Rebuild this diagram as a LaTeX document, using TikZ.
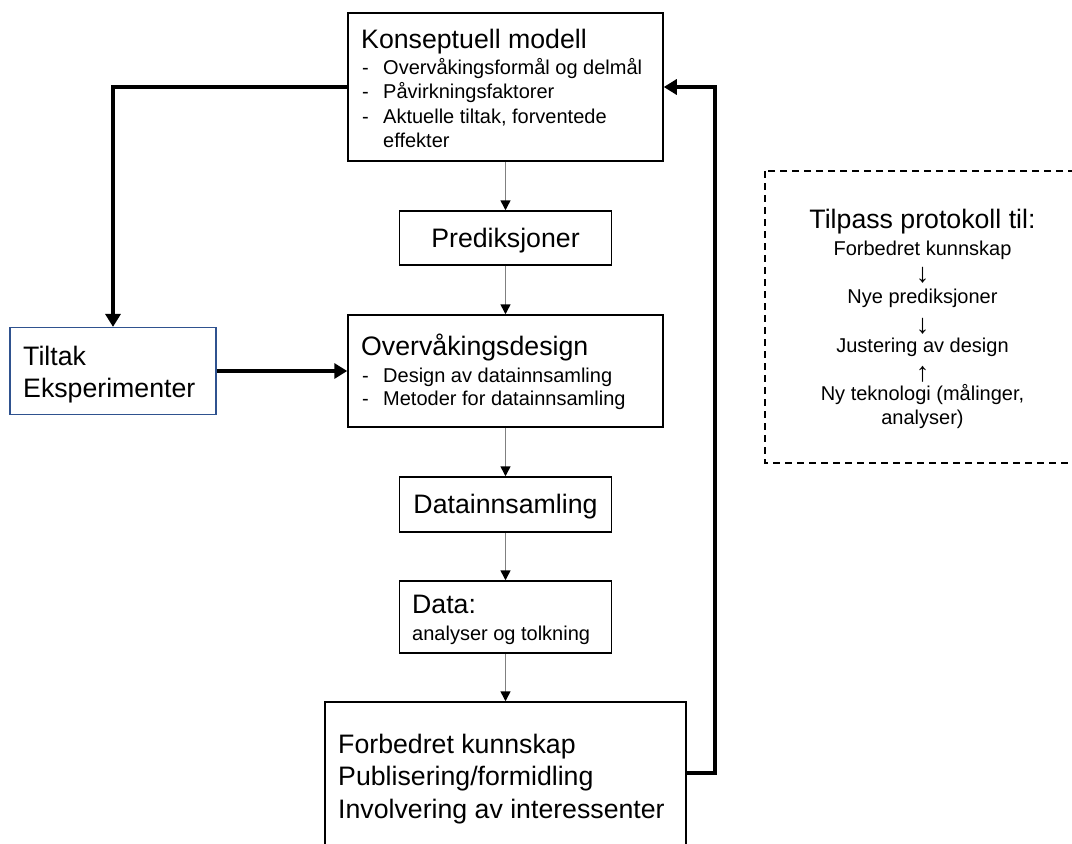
\documentclass[tikz,border=0pt]{standalone}
\usepackage{fontspec}
\setmainfont{Liberation Sans}
\usetikzlibrary{arrows.meta}
\definecolor{flowgray}{RGB}{128,128,128}
\definecolor{tiltblue}{RGB}{47,82,143}
\begin{document}
\begin{tikzpicture}[x=1pt,y=-1pt,
  box/.style={draw=black, line width=1.5pt, inner sep=0pt},
  big/.style={font=\fontsize{26.7}{32}\selectfont, inner sep=0pt},
  sml/.style={font=\fontsize{20}{24}\selectfont, inner sep=0pt},
  arr/.style={font=\fontsize{27}{27}\selectfont, inner sep=0pt},
  flow/.style={draw=flowgray, line width=1.5pt, -{Triangle[width=10pt,length=10pt,color=black]}},
  fat/.style={line width=4.5pt, -{Triangle[width=15pt,length=13pt]}},
]
\useasboundingbox (0,0) rectangle (1072,844);
\clip (0,0) rectangle (1072,844);

% boxes
\node[box, minimum width=315pt, minimum height=148pt] (km) at (505.5,87) {};
\node[box, minimum width=212pt, minimum height=54pt] (pred) at (505.5,238) {};
\node[box, minimum width=315pt, minimum height=112pt] (ovd) at (505.5,371) {};
\node[box, minimum width=212pt, minimum height=55pt] (dinn) at (505.5,504.5) {};
\node[box, minimum width=212pt, minimum height=72pt] (data) at (505.5,617) {};
\node[box, minimum width=361pt, minimum height=180pt] (fin) at (505.5,792) {};
\node[draw=tiltblue, line width=1.2pt, inner sep=0pt, minimum width=206pt, minimum height=87pt] (tilt) at (113,371) {};
\draw[dashed, dash pattern=on 7pt off 5pt, line width=1.2pt] (765,171) rectangle (1090,463);

% connectors
\draw[flow] (km.south) -- (pred.north);
\draw[flow] (pred.south) -- (ovd.north);
\draw[flow] (ovd.south) -- (dinn.north);
\draw[flow] (dinn.south) -- (data.north);
\draw[flow] (data.south) -- (fin.north);
\coordinate (fbc) at (715,773);
\draw[fat] (fbc -| fin.east) -- (fbc) |- (km.east);
\draw[fat] (km.west) -| (tilt.north);
\draw[fat] (tilt.east) -- (ovd.west);

% Konseptuell modell
\node[big, anchor=base west] (kmT) at (361,48) {Konseptuell modell};
\node[sml, anchor=base west] (kmd1) at (362,74) {-};
\node[sml, anchor=base west] (kmb1) at (383,74) {Overvåkingsformål og delmål};
\node[sml, anchor=base west] (kmd2) at (362,98) {-};
\node[sml, anchor=base west] (kmb2) at (383,98) {Påvirkningsfaktorer};
\node[sml, anchor=base west] (kmd3) at (362,123) {-};
\node[sml, anchor=base west] (kmb3) at (383,123) {Aktuelle tiltak, forventede};
\node[sml, anchor=base west] (kmb4) at (383,147) {effekter};

% Prediksjoner
\node[big, anchor=base] (predT) at (505.5,247) {Prediksjoner};

% Overvakingsdesign
\node[big, anchor=base west] (ovdT) at (361,355) {Overvåkingsdesign};
\node[sml, anchor=base west] (ovdd1) at (362,382) {-};
\node[sml, anchor=base west] (ovdb1) at (383,382) {Design av datainnsamling};
\node[sml, anchor=base west] (ovdd2) at (362,405) {-};
\node[sml, anchor=base west] (ovdb2) at (383,405) {Metoder for datainnsamling};

% Datainnsamling
\node[big, anchor=base] (dinnT) at (505.5,513) {Datainnsamling};

% Data
\node[big, anchor=base west] (dataT) at (412,613) {Data:};
\node[sml, anchor=base west] (dataB) at (412,640) {analyser og tolkning};

% Final
\node[big, anchor=base west] (fin1) at (338,753) {Forbedret kunnskap};
\node[big, anchor=base west] (fin2) at (338,785) {Publisering/formidling};
\node[big, anchor=base west] (fin3) at (338,818) {Involvering av interessenter};

% Tiltak
\node[big, anchor=base west] (tilt1) at (23,365) {Tiltak};
\node[big, anchor=base west] (tilt2) at (23,397) {Eksperimenter};

% Tilpass
\node[big, anchor=base] (tp0) at (922.5,228) {Tilpass protokoll til:};
\node[sml, anchor=base] (tp1) at (922.5,255) {Forbedret kunnskap};
\node[arr, anchor=center] (tp2) at (922.5,275.5) {↓};
\node[sml, anchor=base] (tp3) at (922.5,303) {Nye prediksjoner};
\node[arr, anchor=center] (tp4) at (922.5,326) {↓};
\node[sml, anchor=base] (tp5) at (922.5,352) {Justering av design};
\node[arr, anchor=center] (tp6) at (922.5,374) {↑};
\node[sml, anchor=base] (tp7) at (922.5,400) {Ny teknologi (målinger,};
\node[sml, anchor=base] (tp8) at (922.5,424) {analyser)};
\end{tikzpicture}
\end{document}
